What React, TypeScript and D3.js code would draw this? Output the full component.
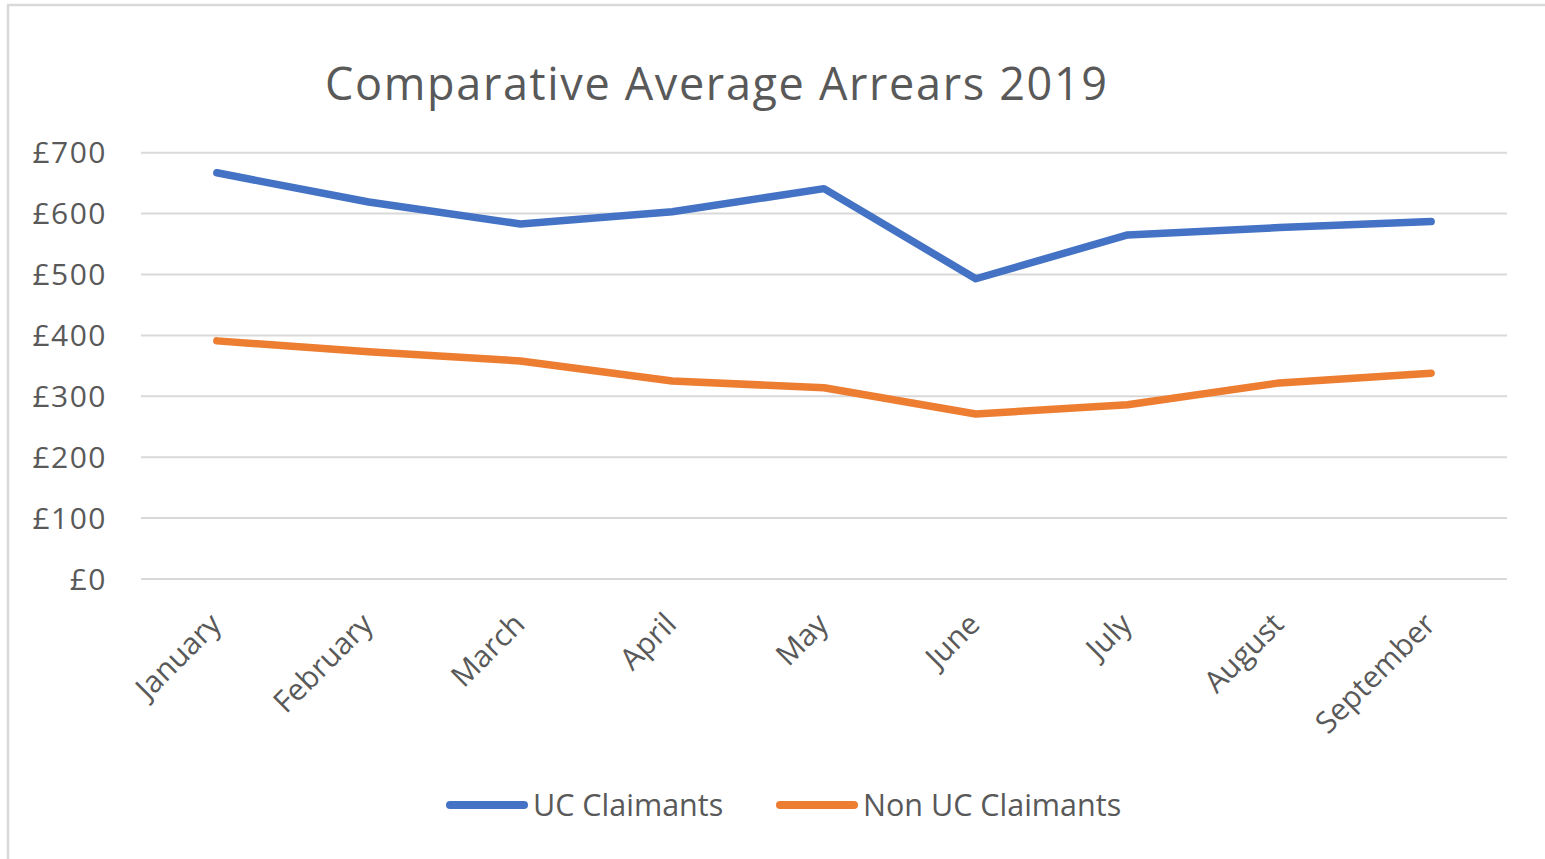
import React from 'react';
import * as d3 from 'd3';

const months = ['January', 'February', 'March', 'April', 'May', 'June', 'July', 'August', 'September'];
const ucClaimants = [667, 619, 583, 603, 641, 493, 565, 577, 587];
const nonUcClaimants = [391, 373, 358, 325, 314, 271, 286, 322, 338];
const yTicks = [0, 100, 200, 300, 400, 500, 600, 700];

const series = [
    { name: 'UC Claimants', values: ucClaimants, color: '#4472C4' },
    { name: 'Non UC Claimants', values: nonUcClaimants, color: '#ED7D31' },
];

const W = 1545;
const H = 859;
const textColor = '#595959';
const font = '"Open Sans", sans-serif';

function App() {
    // plot area
    const left = 141;
    const right = 1507;
    const top = 152.7;
    const bottom = 579;

    const x = d3.scaleBand().domain(months).range([left, right]);
    const y = d3.scaleLinear().domain([0, 700]).range([bottom, top]);

    const line = d3
        .line<number>()
        .x((_, i) => x(months[i])! + x.bandwidth() / 2)
        .y((d) => y(d));

    return (
        <svg width={W} height={H} style={{ position: 'absolute', left: 0, top: 0, background: '#fff' }}>
            {/* outer frame */}
            <rect x={8} y={5} width={W + 20} height={H + 20} fill="#fff" stroke="#d9d9d9" strokeWidth={2.5} />

            {/* title */}
            <text x={716} y={100} textAnchor="middle" fontFamily={font} fontSize={45} fill={textColor}
                  textLength={782} lengthAdjust="spacing">
                Comparative Average Arrears 2019
            </text>

            {/* gridlines and y labels */}
            {yTicks.map((t) => (
                <g key={t}>
                    <line x1={left} x2={right} y1={y(t)} y2={y(t)} stroke="#d9d9d9" strokeWidth={2} />
                    <text x={107} y={y(t) + 10.5} textAnchor="end" fontFamily={font} fontSize={30}
                          letterSpacing={1.5} fill={textColor}>
                        £{t}
                    </text>
                </g>
            ))}

            {/* x labels, rotated */}
            {months.map((m) => {
                const cx = x(m)! + x.bandwidth() / 2;
                return (
                    <text
                        key={m}
                        transform={`translate(${cx + 6}, ${bottom + 47}) rotate(-45)`}
                        textAnchor="end"
                        fontFamily={font}
                        fontSize={30}
                        fill={textColor}
                    >
                        {m}
                    </text>
                );
            })}

            {/* lines */}
            {series.map((s) => (
                <path
                    key={s.name}
                    d={line(s.values)!}
                    fill="none"
                    stroke={s.color}
                    strokeWidth={7.5}
                    strokeLinejoin="round"
                    strokeLinecap="round"
                />
            ))}

            {/* legend */}
            {series.map((s, i) => {
                const lx = i === 0 ? 447 : 777;
                return (
                    <g key={s.name}>
                        <line x1={lx + 3} x2={lx + 77} y1={805} y2={805} stroke={s.color} strokeWidth={8} strokeLinecap="round" />
                        <text x={lx + 86} y={816} fontFamily={font} fontSize={30.5} fill={textColor}>
                            {s.name}
                        </text>
                    </g>
                );
            })}
        </svg>
    );
}

export default App;
